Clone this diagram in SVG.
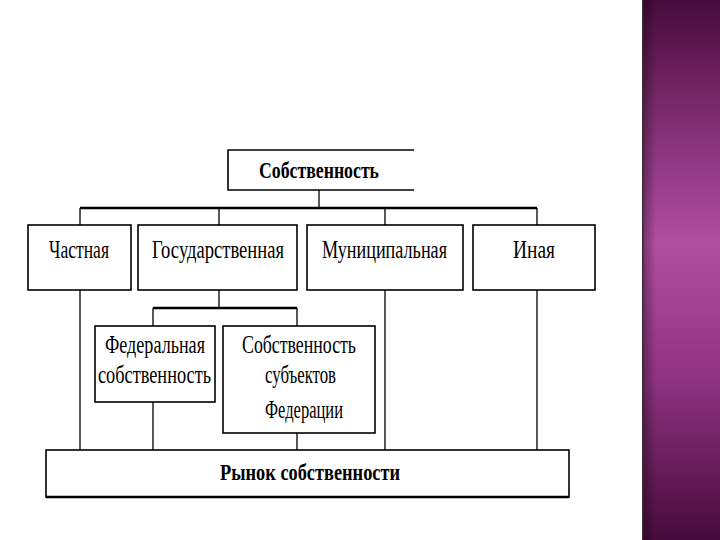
<svg xmlns="http://www.w3.org/2000/svg" width="720" height="540" viewBox="0 0 720 540">
<defs>
<linearGradient id="band" x1="0" y1="0" x2="0" y2="1">
<stop offset="0" stop-color="#470b3c"/>
<stop offset="0.2" stop-color="#7a2a6c"/>
<stop offset="0.45" stop-color="#b04ea2"/>
<stop offset="0.7" stop-color="#8e3380"/>
<stop offset="1" stop-color="#470b3c"/>
</linearGradient>
<linearGradient id="edge" x1="0" y1="0" x2="1" y2="0">
<stop offset="0" stop-color="#000" stop-opacity="0.35"/>
<stop offset="1" stop-color="#000" stop-opacity="0"/>
</linearGradient>
<style>
.box{fill:#fff;stroke:#000;stroke-width:1.6}
.ln{fill:none;stroke:#000;stroke-width:1.3}
.bus{fill:none;stroke:#000;stroke-width:2.5}
.t{font-family:"Liberation Serif","Times New Roman",serif;font-size:26px;fill:#000;text-anchor:middle}
.b{font-weight:bold;font-size:24px}
</style>
</defs>
<rect x="0" y="0" width="720" height="540" fill="#fff"/>
<rect x="642" y="0" width="78" height="540" fill="url(#band)"/>
<rect x="642" y="0" width="14" height="540" fill="url(#edge)"/>
<rect x="642" y="0" width="1.5" height="540" fill="#3a2a36"/>

<g id="connectors">
<path class="ln" d="M319 190V208"/>
<path class="bus" d="M80 208H537"/>
<path class="ln" d="M80 208V225M219 208V225M385 208V225M537 208V225"/>
<path class="ln" d="M80 290V450M385 290V450M537 290V450"/>
<path class="ln" d="M219 290V308"/>
<path class="bus" d="M153 308H297"/>
<path class="ln" d="M153 308V326M297 308V326"/>
<path class="ln" d="M153 402V450M297 433V450"/>
</g>

<g id="n-sobstv">
<path class="box" d="M414 150H228V190H414"/>
<text class="t b" x="319" y="178" textLength="120" lengthAdjust="spacingAndGlyphs">Собственность</text>
</g>
<g id="n-chastnaya">
<rect class="box" x="28" y="225" width="103" height="65"/>
<text class="t" x="79" y="258" textLength="60" lengthAdjust="spacingAndGlyphs">Частная</text>
</g>
<g id="n-gos">
<rect class="box" x="138" y="225" width="159" height="65"/>
<text class="t" x="218" y="258" textLength="132" lengthAdjust="spacingAndGlyphs">Государственная</text>
</g>
<g id="n-mun">
<rect class="box" x="307" y="225" width="156" height="65"/>
<text class="t" x="384.5" y="258" textLength="125" lengthAdjust="spacingAndGlyphs">Муниципальная</text>
</g>
<g id="n-inaya">
<rect class="box" x="473" y="225" width="122" height="65"/>
<text class="t" x="534" y="258" textLength="42" lengthAdjust="spacingAndGlyphs">Иная</text>
</g>
<g id="n-fed">
<rect class="box" x="95" y="326" width="120" height="76"/>
<text class="t" x="155" y="353" textLength="100" lengthAdjust="spacingAndGlyphs">Федеральная</text>
<text class="t" x="154.5" y="383" textLength="113" lengthAdjust="spacingAndGlyphs">собственность</text>
</g>
<g id="n-subj">
<rect class="box" x="223" y="326" width="152" height="107"/>
<text class="t" x="299" y="353" textLength="114" lengthAdjust="spacingAndGlyphs">Собственность</text>
<text class="t" x="300.5" y="383" textLength="71" lengthAdjust="spacingAndGlyphs">субъектов</text>
<text class="t" x="304" y="418" textLength="78" lengthAdjust="spacingAndGlyphs">Федерации</text>
</g>
<g id="n-rynok">
<rect class="box" x="46" y="450" width="523" height="47"/>
<path d="M46 497H569" stroke="#000" stroke-width="2.5"/>
<text class="t b" x="310" y="480" textLength="180" lengthAdjust="spacingAndGlyphs">Рынок собственности</text>
</g>
</svg>
